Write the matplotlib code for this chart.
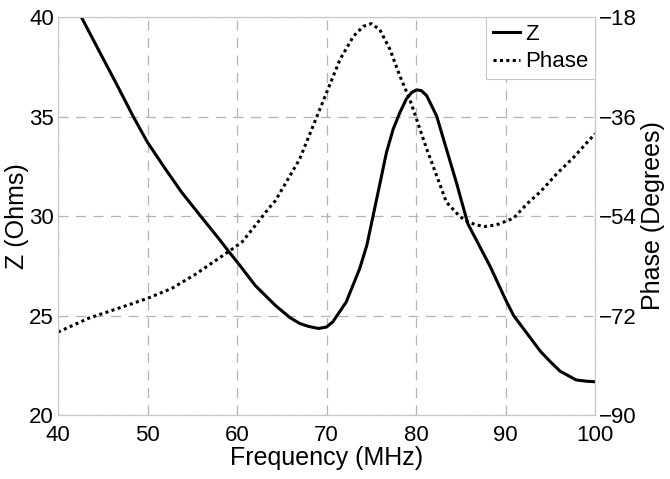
import numpy as np
import matplotlib.pyplot as plt

plt.rcParams['font.family'] = ['Liberation Sans', 'DejaVu Sans']

# impedance magnitude
z_freq = [42.65, 44.5, 46.4, 48.4, 50.0, 52.0, 53.8, 56.1, 57.9, 59.1, 60.0,
          62.05, 64.3, 65.9, 67.0, 68.0, 69.1, 70.0, 70.7, 72.2, 73.7, 74.5, 75.2,
          76.0, 76.7, 77.45, 78.2, 78.9, 79.5, 80.06, 80.6, 81.2, 82.3, 83.4,
          84.5, 85.3, 85.8, 88.3, 90.0, 90.9, 93.9, 95.0, 96.1, 97.9, 99.0,
          100.0]
z_ohms = [39.96, 38.37, 36.75, 35.0, 33.7, 32.36, 31.2, 29.9, 28.9, 28.2, 27.7,
          26.5, 25.5, 24.9, 24.6, 24.45, 24.35, 24.42, 24.68, 25.68, 27.35, 28.52, 30.0,
          31.7, 33.2, 34.37, 35.2, 35.87, 36.2, 36.34, 36.3, 36.04, 35.03, 33.36,
          31.7, 30.4, 29.6, 27.45, 25.8, 25.0, 23.2, 22.68, 22.2, 21.76, 21.7,
          21.67]

# phase
ph_freq = [40.0, 43.4, 47.1, 50.0, 52.7, 55.3, 57.2, 59.1, 60.56, 62.05, 63.5,
           64.3, 65.2, 67.0, 68.5, 70.0, 71.5, 73.0, 74.1, 75.0, 75.96, 77.1,
           78.2, 79.3, 80.06, 81.2, 82.3, 83.4, 84.9, 85.7, 86.7, 87.7, 89.0,
           90.9, 92.4, 93.9, 95.7, 97.6, 100.0]
ph_deg = [-75.0, -72.5, -70.5, -68.9, -67.1, -64.6, -62.5, -60.4, -58.7, -55.7,
          -52.7, -51.2, -48.7, -43.7, -37.7, -31.7, -25.7, -21.5, -19.7, -19.2,
          -20.3, -23.9, -28.7, -32.9, -36.5, -41.9, -46.7, -51.5, -54.1, -55.0,
          -55.6, -55.9, -55.6, -54.4, -51.8, -49.6, -46.4, -43.4, -39.1]

fig = plt.figure(figsize=(6.7, 4.79), dpi=100)
ax = fig.add_axes([0.0866, 0.1336, 0.8015, 0.8309])
ax2 = ax.twinx()

grid_c = '#b4b4b4'
l1, = ax.plot(z_freq, z_ohms, color='k', lw=2.2, label='Z')
l2, = ax2.plot(ph_freq, ph_deg, color='k', lw=2.2, ls=(0, (1, 1.1)), label='Phase')

ax.set_xlim(40, 100)
ax.set_ylim(20, 40)
ax2.set_ylim(-90, -18)
ax.set_xticks(np.arange(40, 101, 10))
ax.set_yticks([20, 25, 30, 35, 40])
ax2.set_yticks([-90, -72, -54, -36, -18])

ax.grid(True, color=grid_c, ls=(0, (8, 6)), lw=0.9)
for a in (ax, ax2):
    for s in a.spines.values():
        s.set_color('#c8c8c8')
    a.tick_params(length=0, labelsize=16, pad=3)
ax.tick_params(axis='x', pad=7)

ax.set_xlabel('Frequency (MHz)', fontsize=18, labelpad=0)
ax.set_ylabel('Z (Ohms)', fontsize=18, labelpad=0)
ax2.set_ylabel('Phase (Degrees)', fontsize=18, labelpad=3)

leg = ax2.legend([l1, l2], ['Z', 'Phase'], loc='upper right', fontsize=16,
                 frameon=True, fancybox=False, edgecolor='#c8c8c8',
                 framealpha=1, borderaxespad=0, handlelength=1.2,
                 handletextpad=0.25, borderpad=0.3, labelspacing=0.3)
leg.get_frame().set_linewidth(0.8)

fig.savefig('out.png', dpi=100)
